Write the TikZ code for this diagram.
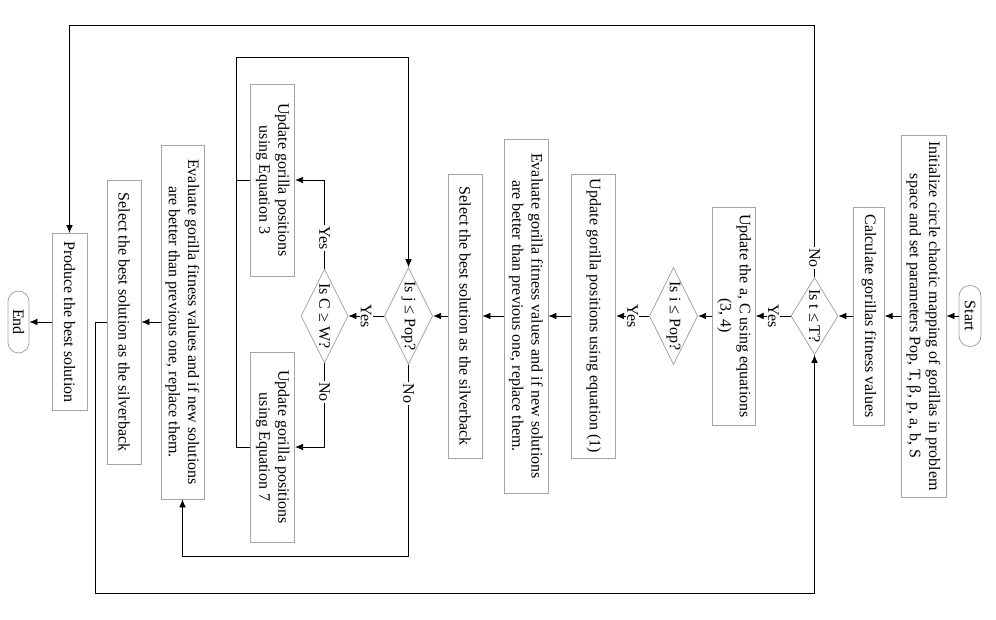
\documentclass[tikz,border=0pt]{standalone}
\usepackage{fontspec}
\setmainfont{Liberation Serif}
\usetikzlibrary{shapes.geometric, arrows.meta}

\definecolor{boxgray}{RGB}{165,165,165}

\tikzset{
    box/.style={draw=boxgray, rectangle, rotate=-90, align=center, inner sep=0pt},
    term/.style={box, rounded corners=8pt},
    decision/.style={draw=boxgray, diamond, rotate=-90, inner sep=0pt, aspect=2,
        minimum width=70.5pt, minimum height=35.25pt},
    lbl/.style={fill=white, rotate=-90, inner sep=1pt}
}

\begin{document}
\begin{tikzpicture}[x=0.75pt, y=-0.75pt, >={Latex[length=6pt, width=5pt]},
        font=\fontsize{12}{14.4}\selectfont, line width=0.6pt]
    \useasboundingbox (0,0) rectangle (996,620);

    % The main row
    \node[term, minimum width=45.75pt, minimum height=16.5pt] (start) at (970,316) {Start};
    \node[box, minimum width=271.5pt, minimum height=33.75pt] (init) at (923.5,316)
        {Initialize circle chaotic mapping of gorillas in problem\\space and set parameters Pop, T, β, p, a, b, S};
    \node[box, minimum width=163.5pt, minimum height=23pt] (calc) at (869,316) {Calculate gorillas fitness values};
    \node[decision, aspect=1.6, minimum width=57.75pt] (tdia) at (814.5,316) {Is t ≤ T?};
    \node[box, minimum width=163.5pt, minimum height=32pt] (upac) at (734,316)
        {Update the a, C using equations\\(3, 4)};
    \node[decision] (idia) at (673.5,316) {Is i ≤ Pop?};
    \node[box, minimum width=213pt, minimum height=33pt] (upeq1) at (593.7,316)
        {Update gorilla positions using equation (1)};
    \node[box, minimum width=265.5pt, minimum height=33pt] (eval1) at (526,316)
        {Evaluate gorilla fitness values and if new solutions\\are better than previous one, replace them.};
    \node[box, minimum width=213pt, minimum height=25.5pt] (sel1) at (465,316)
        {Select the best solution as the silverback};
    \node[decision] (jdia) at (408.5,316) {Is j ≤ Pop?};
    \node[decision] (cdia) at (324.5,316) {Is C ≥ W?};

    % The two updates
    \node[box, minimum width=144pt, minimum height=33pt] (eq3) at (272.7,180)
        {Update gorilla positions\\using Equation 3};
    \node[box, minimum width=142.5pt, minimum height=33pt] (eq7) at (272.7,447)
        {Update gorilla positions\\using Equation 7};

    % The left row
    \node[box, minimum width=265.5pt, minimum height=32.25pt] (eval2) at (182.5,322)
        {Evaluate gorilla fitness values and if new solutions\\are better than previous one, replace them.};
    \node[box, minimum width=213pt, minimum height=25.5pt] (sel2) at (124,322)
        {Select the best solution as the silverback};
    \node[box, minimum width=132.75pt, minimum height=26.25pt] (produce) at (69.5,322)
        {Produce the best solution};
    \node[term, minimum width=46.5pt, minimum height=15.75pt] (end) at (18.5,322) {End};

    % Corners of the loops
    \coordinate (tr) at (814.5,25);
    \coordinate (tl) at (69.5,25);
    \coordinate (bl) at (95,593);
    \coordinate (br) at (814.5,593);
    \coordinate (itl) at (236,57.7);
    \coordinate (itr) at (408.5,57.7);
    \coordinate (ibr) at (408.5,556);

    % Arrows along the row
    \draw[->] (start) -- (init);
    \draw[->] (init) -- (calc);
    \draw[->] (calc) -- (tdia);
    \draw[->] (tdia) -- node[lbl] {Yes} (upac);
    \draw[->] (upac) -- (idia);
    \draw[->] (idia) -- node[lbl] {Yes} (upeq1);
    \draw[->] (upeq1) -- (eval1);
    \draw[->] (eval1) -- (sel1);
    \draw[->] (sel1) -- (jdia);
    \draw[->] (jdia) -- node[lbl] {Yes} (cdia);
    \draw[->] (cdia) |- node[lbl, pos=0.17] {Yes} (eq3);
    \draw[->] (cdia) |- node[lbl, pos=0.17] {No} (eq7);

    % Inner loop
    \draw (eq3) -- (eq3 -| itl);
    \draw[->] (eq7) -| (itl) -- (itr) -- (jdia);
    \draw[->] (jdia) -- node[lbl, pos=0.15] {No} (ibr) -| (eval2);
    \draw[->] (eval2) -- (sel2);

    % Outer loops
    \draw[->] (tdia) -- node[lbl, pos=0.075] {No} (tr) -- (tl) -- (produce);
    \draw[->] (sel2) -| (bl) -- (br) -- (tdia);
    \draw[->] (produce) -- (end);

\end{tikzpicture}
\end{document}
